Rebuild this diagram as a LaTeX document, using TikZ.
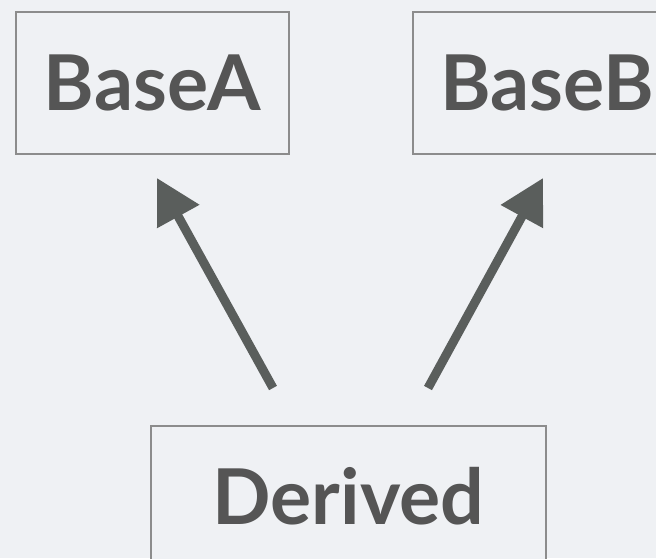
\documentclass[tikz,border=0pt]{standalone}
\usepackage{fontspec}
\setmainfont{Lato}
\usepackage{tikz}
\usetikzlibrary{positioning}
\usetikzlibrary{arrows.meta}
\definecolor{bggray}{HTML}{EFF1F4}
\definecolor{boxgray}{HTML}{8C8C8C}
\definecolor{textgray}{HTML}{555555}
\definecolor{arrowgray}{HTML}{5A5E5C}
\tikzset{
    classbox/.style = {draw=boxgray, line width=2pt, fill=bggray, text=textgray,
        minimum height=142pt, inner xsep=28pt, text height=55pt, text depth=0pt,
        font=\fontsize{77}{80}\bfseries\selectfont},
    inherit/.style = {draw=arrowgray, line width=9pt, -{Triangle[length=44pt,width=46pt]}}
}

\begin{document}
\begin{tikzpicture}[x=1pt, y=-1pt]
  % background and frame
  \fill [bggray] (0, 0) rectangle (656, 558);
  \useasboundingbox (0, 0) rectangle (656, 558);
  \clip (0, 0) rectangle (656, 558);
  % classes
  \node [classbox, minimum width=271pt] (basea) at (152.5, 83) {BaseA};
  \node [classbox, minimum width=263pt] (baseb) at (547.5, 83) {BaseB};
  \node [classbox, minimum width=395pt] (derived) at (348.5, 497) {Derived};
  % arrow ends
  \coordinate (a0) at (273, 388);
  \coordinate (a1) at (157, 178);
  \coordinate (b0) at (428, 388);
  \coordinate (b1) at (543, 178);
  \draw [inherit] (a0) -- (a1);
  \draw [inherit] (b0) -- (b1);
\end{tikzpicture}
\end{document}
